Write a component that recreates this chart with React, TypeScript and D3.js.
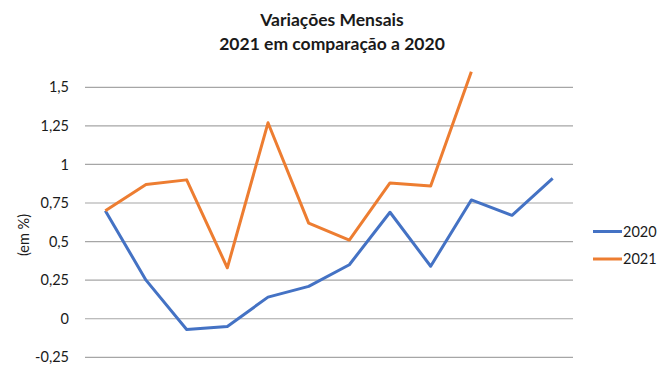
import * as d3 from "d3";

const months = ["Jan", "Fev", "Mar", "Abr", "Mai", "Jun", "Jul", "Ago", "Set", "Out", "Nov", "Dez"];
const values2020 = [0.7, 0.25, -0.07, -0.05, 0.14, 0.21, 0.35, 0.69, 0.34, 0.77, 0.67, 0.91];
const values2021 = [0.7, 0.87, 0.9, 0.33, 1.27, 0.62, 0.51, 0.88, 0.86, 1.6];
const yTicks = [-0.25, 0, 0.25, 0.5, 0.75, 1, 1.25, 1.5];
const seriesNames = ["2020", "2021"];
const seriesColors = ["#4472C4", "#ED7D31"];

const W = 662;
const H = 385;
const font = "Lato, 'Open Sans', sans-serif";

export default function App() {
  const x = d3.scalePoint<string>().domain(months).range([85, 573]).padding(0.5);
  const y = d3.scaleLinear().domain([-0.25, 1.5]).range([357.3, 87.3]);
  const fmt = (v: number) => String(v).replace(".", ",");

  const line = d3
    .line<number>()
    .x((_, i) => x(months[i]) ?? 0)
    .y((d) => y(d));

  const series = [values2020, values2021];

  return (
    <svg width={W} height={H} style={{ position: "absolute", left: 0, top: 0, background: "#fff" }}>
      <text x={332} y={25.5} textAnchor="middle" fontFamily={font} fontWeight="bold" fontSize={17.5} fill="#1a1a1a">
        Variações Mensais
      </text>
      <text x={332} y={49.5} textAnchor="middle" fontFamily={font} fontWeight="bold" fontSize={17.5} fill="#1a1a1a">
        2021 em comparação a 2020
      </text>

      {yTicks.map((t) => (
        <g key={t}>
          <line x1={85} x2={573} y1={y(t)} y2={y(t)} stroke="#a6a6a6" strokeWidth={1.2} />
          <text x={69} y={y(t)} dy="0.35em" textAnchor="end" fontFamily={font} fontSize={14.5} fill="#1a1a1a">
            {fmt(t)}
          </text>
        </g>
      ))}

      <text
        transform={`translate(24,235) rotate(-90)`}
        textAnchor="middle"
        dy="0.35em"
        fontFamily={font}
        fontSize={14.5}
        fill="#1a1a1a"
      >
        (em %)
      </text>

      {series.map((s, i) => (
        <path
          key={seriesNames[i]}
          d={line(s) ?? ""}
          fill="none"
          stroke={seriesColors[i]}
          strokeWidth={3}
          strokeLinejoin="round"
        />
      ))}

      {seriesNames.map((n, i) => (
        <g key={n}>
          <line x1={593} x2={622} y1={231.5 + i * 27.5} y2={231.5 + i * 27.5} stroke={seriesColors[i]} strokeWidth={3} />
          <text x={623} y={231.5 + i * 27.5} dy="0.35em" fontFamily={font} fontSize={14.5} fill="#1a1a1a">
            {n}
          </text>
        </g>
      ))}
    </svg>
  );
}
